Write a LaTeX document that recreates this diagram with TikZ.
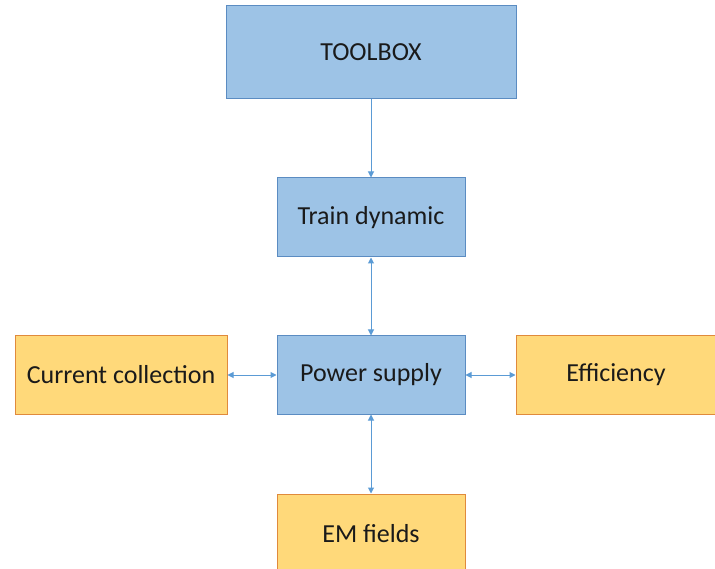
\documentclass[tikz,border=0pt]{standalone}
\usepackage{fontspec}
\setmainfont{Carlito}
\usetikzlibrary{arrows.meta}
\definecolor{bfill}{HTML}{9DC3E6}
\definecolor{bdraw}{HTML}{5B8CC2}
\definecolor{ofill}{HTML}{FFD97A}
\definecolor{odraw}{HTML}{E08A3C}
\definecolor{arr}{HTML}{5B9BD5}
\definecolor{txt}{HTML}{1A1A1A}
\newcommand{\lowlabel}[1]{\raisebox{-3pt}{#1}}
\tikzset{
  bluebox/.style={draw=bdraw, fill=bfill, line width=1pt, inner sep=0pt, text=txt, font=\fontsize{26}{30}\selectfont},
  orangebox/.style={draw=odraw, fill=ofill, line width=1pt, inner sep=0pt, text=txt, font=\fontsize{26}{30}\selectfont},
  conn/.style={draw=arr, line width=1pt, -{Triangle[length=6pt,width=6pt]}},
  bconn/.style={draw=arr, line width=1pt, {Triangle[length=6pt,width=6pt]}-{Triangle[length=6pt,width=6pt]}}
}
\begin{document}
\begin{tikzpicture}[x=1pt,y=-1pt]
\useasboundingbox (0,0) rectangle (715,569);
\node[bluebox, minimum width=290pt, minimum height=93pt] (tb) at (371,52.5) {\lowlabel{TOOLBOX}};
\node[bluebox, minimum width=188pt, minimum height=79pt] (td) at (371,217.5) {\lowlabel{Train dynamic}};
\node[bluebox, minimum width=188pt, minimum height=78pt] (ps) at (371,375) {\lowlabel{Power supply}};
\node[orangebox, minimum width=212pt, minimum height=78pt] (cc) at (121,375) {\lowlabel{Current collection}};
\node[orangebox, minimum width=200pt, minimum height=78pt] (ef) at (616,375) {\lowlabel{Efficiency}};
\node[orangebox, minimum width=188pt, minimum height=80pt] (em) at (371,534) {\lowlabel{EM fields}};
\draw[conn] (tb) -- (td);
\draw[bconn] (td) -- (ps);
\draw[bconn] (ps) -- (cc);
\draw[bconn] (ps) -- (ef);
\draw[bconn] (ps) -- (em);
\end{tikzpicture}
\end{document}
